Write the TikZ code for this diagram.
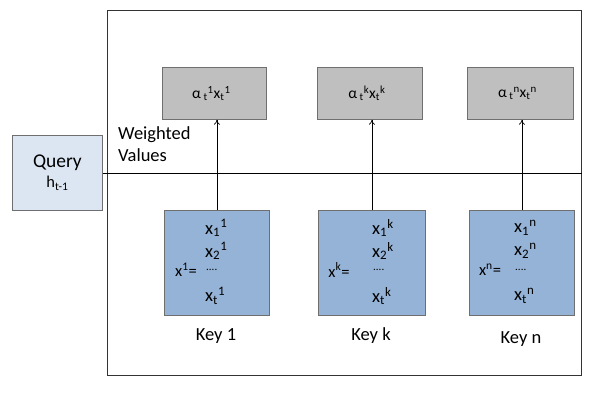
\documentclass[tikz,border=0pt]{standalone}
\usepackage{fontspec}
\setmainfont{Carlito}
\usetikzlibrary{arrows.meta}
\definecolor{keyblue}{HTML}{95B3D7}
\definecolor{qblue}{HTML}{DCE6F2}
\definecolor{valgray}{HTML}{BFBFBF}
\definecolor{edgegray}{HTML}{6F6F6F}
\newcommand{\sbp}[2]{\textsubscript{#1}\textsuperscript{#2}}
\begin{document}
\begin{tikzpicture}[x=1pt,y=-1pt,
  box/.style={draw=edgegray,line width=0.8pt,inner sep=0pt,anchor=north west},
  valbox/.style={box,fill=valgray},
  keybox/.style={box,fill=keyblue},
  lbl/.style={font=\fontsize{18.5}{21}\selectfont,inner sep=0pt},
  vtxt/.style={inner sep=0pt,font=\fontsize{15.5}{18}\selectfont},
  el/.style={font=\fontsize{18.5}{20}\selectfont,inner sep=0pt,anchor=west},
  eq/.style={inner sep=0pt,font=\fontsize{16.5}{18}\selectfont},
  dots/.style={el,font=\fontsize{11}{12}\selectfont},
  conn/.style={line width=0.7pt,-{To[length=5pt,width=6pt]}}]
\useasboundingbox (0,0) rectangle (589,401);
\node[box,draw=black!80,line width=0.8pt,minimum width=474pt,minimum height=365pt] (outer) at (107,10) {};
\node[box,fill=qblue,minimum width=90pt,minimum height=75pt,align=center,font=\fontsize{19.5}{22}\selectfont] (query) at (12,135) {Query\\[-2pt]{\fontsize{16.5}{18}\selectfont h\textsubscript{t-1}}};
\coordinate (lineend) at (outer.east |- query.east);
\draw[line width=0.8pt] (query.east) -- (lineend);
\node[lbl,anchor=west,align=left] (wv) at (118,144) {Weighted\\[1pt]Values};
% value boxes
\node[valbox,minimum width=104pt,minimum height=52pt] (v1) at (162,67) {};
\node[vtxt] (v1t) at ([xshift=-3pt]v1.center) {α\,\sbp{t}{1}x\sbp{t}{1}};
\node[valbox,minimum width=105pt,minimum height=52pt] (vk) at (317,67) {};
\node[vtxt] (vkt) at ([xshift=-3pt]vk.center) {α\,\sbp{t}{k}x\sbp{t}{k}};
\node[valbox,minimum width=106pt,minimum height=52pt] (vn) at (467,67) {};
\node[vtxt] (vnt) at ([xshift=-3pt]vn.center) {α\,\sbp{t}{n}x\sbp{t}{n}};
% key boxes
\node[keybox,minimum width=105pt,minimum height=105pt] (k1) at (164,210) {};
\node[keybox,minimum width=107pt,minimum height=105pt] (kk) at (318,210) {};
\node[keybox,minimum width=105pt,minimum height=105pt] (kn) at (469,210) {};
% key 1 contents
\node[eq] (k1eq) at (186,270) {x\textsuperscript{1}=};
\node[el] (k1a) at (205,228) {x\sbp{1}{1}};
\node[el] (k1b) at (205,251) {x\sbp{2}{1}};
\node[dots] (k1c) at (206,270) {....};
\node[el] (k1d) at (205,296) {x\sbp{t}{1}};
% key k contents
\node[eq] (kkeq) at (339,270) {x\textsuperscript{k}=};
\node[el] (kka) at (372,228) {x\sbp{1}{k}};
\node[el] (kkb) at (372,251) {x\sbp{2}{k}};
\node[dots] (kkc) at (373,270) {....};
\node[el] (kkd) at (372,296) {x\sbp{t}{k}};
% key n contents
\node[eq] (kneq) at (490,270) {x\textsuperscript{n}=};
\node[el] (kna) at (514,228) {x\sbp{1}{n}};
\node[el] (knb) at (514,251) {x\sbp{2}{n}};
\node[dots] (knc) at (515,270) {....};
\node[el] (knd) at (514,296) {x\sbp{t}{n}};
% key labels
\node[lbl] (l1) at (216,336) {Key 1};
\node[lbl] (lk) at (371,336) {Key k};
\node[lbl] (ln) at (521,339) {Key n};
% arrows
\draw[conn] (k1.north) -- (k1.north |- v1.south);
\draw[conn] (kk.north) -- (kk.north |- vk.south);
\draw[conn] (kn.north) -- (kn.north |- vn.south);
\end{tikzpicture}
\end{document}
